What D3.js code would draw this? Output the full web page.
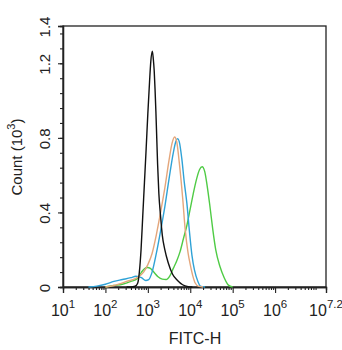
<!DOCTYPE html>
<html><head><meta charset="utf-8">
<script src="https://cdn.jsdelivr.net/npm/d3@7"></script>
<style>html,body{margin:0;padding:0;background:#fff;}svg{display:block;font-family:"Liberation Sans",Arial,sans-serif;}</style>
</head><body>
<script>
// x values are log10(FITC-H); y values are Count (10^3)
const blackX = [2.5,2.6,2.7,2.76,2.8,2.84,2.88,2.92,2.96,3.0,3.04,3.07,3.106,3.13,3.15,3.17,3.19,3.21,3.23,3.26,3.30,3.34,3.40,3.48,3.58,3.70,3.82,3.95,4.05];
const blackY = [0,0,0.004,0.02,0.08,0.2,0.38,0.56,0.74,0.93,1.1,1.21,1.265,1.22,1.16,1.06,0.94,0.8,0.66,0.5,0.38,0.28,0.2,0.13,0.07,0.035,0.012,0.002,0];
const orangeX = [2.0,2.2,2.5,2.75,2.9,3.0,3.1,3.2,3.3,3.4,3.5,3.57,3.63,3.68,3.74,3.82,3.88,3.95,4.0,4.06,4.12,4.2,4.3];
const orangeY = [0,0.008,0.03,0.05,0.08,0.12,0.18,0.28,0.40,0.53,0.68,0.77,0.805,0.78,0.67,0.48,0.31,0.18,0.12,0.06,0.02,0.003,0];
const blueX = [1.6,1.8,2.0,2.2,2.4,2.6,2.72,2.85,2.95,3.02,3.1,3.2,3.3,3.4,3.5,3.6,3.66,3.70,3.74,3.8,3.86,3.92,3.98,4.04,4.1,4.18,4.25,4.35];
const blueY = [0,0.005,0.015,0.03,0.04,0.05,0.058,0.05,0.035,0.04,0.08,0.18,0.3,0.43,0.58,0.72,0.78,0.796,0.78,0.69,0.56,0.45,0.3,0.17,0.09,0.03,0.003,0];
const greenX = [2.0,2.2,2.4,2.6,2.75,2.85,2.92,2.99,3.06,3.14,3.24,3.34,3.43,3.52,3.6,3.68,3.76,3.84,3.92,4.0,4.07,4.15,4.22,4.28,4.34,4.40,4.46,4.53,4.6,4.7,4.8,4.9,5.0];
const greenY = [0,0.008,0.015,0.03,0.045,0.08,0.098,0.105,0.1,0.08,0.055,0.042,0.04,0.06,0.1,0.14,0.19,0.26,0.33,0.42,0.5,0.58,0.63,0.645,0.62,0.54,0.44,0.31,0.2,0.11,0.05,0.01,0];

const xMajorExp = [1,2,3,4,5,6,7.2];
const xTickLabels = ["1","2","3","4","5","6","7.2"];
const yMajor = [0,0.4,0.8,1.2,1.4];
const yTickLabels = ["0","0.4","0.8","1.2","1.4"];

const W = 342, H = 350;
const L = 63, R = 326, T = 26, B = 287;
const svg = d3.select("body").append("svg").attr("width", W).attr("height", H);
const x = d3.scaleLog().domain([10, Math.pow(10,7.2)]).range([L, R]);
const y = d3.scaleLinear().domain([0, 1.4]).range([B, T]);

// frame
svg.append("rect").attr("x", L).attr("y", T).attr("width", R-L).attr("height", B-T)
  .attr("fill","none").attr("stroke","#222").attr("stroke-width",1.3);

// x ticks
const xMinor = [];
for (let e = 1; e < 7.2; e++) for (let k = 2; k <= 9; k++) { const v = k*Math.pow(10,e); if (Math.log10(v) < 7.2) xMinor.push(v); }
const xAxisMinor = d3.axisBottom(x).tickValues(xMinor).tickSize(3).tickFormat("");
const xAxisMajor = d3.axisBottom(x).tickValues(xMajorExp.map(e=>Math.pow(10,e))).tickSize(6).tickFormat("");
[xAxisMinor, xAxisMajor].forEach(ax => {
  const g = svg.append("g").attr("transform",`translate(0,${B})`).call(ax);
  g.select(".domain").attr("stroke","#222").attr("stroke-width",1.3);
  g.selectAll(".tick line").attr("stroke","#222").attr("stroke-width",1.1);
});
xMajorExp.forEach((e,i) => {
  const t = svg.append("text").attr("x", x(Math.pow(10,e))).attr("y", 316)
    .attr("text-anchor","middle").attr("font-size",16).attr("fill","#222");
  t.append("tspan").text("10");
  t.append("tspan").attr("dy",-8).attr("font-size",11.5).text(xTickLabels[i]);
});
svg.append("text").attr("x", 195).attr("y", 344).attr("text-anchor","middle")
  .attr("font-size",16).attr("fill","#222").text("FITC-H");

// y ticks
const yMinor = d3.range(0, 1.4, 0.08);
const yAxisMinor = d3.axisLeft(y).tickValues(yMinor).tickSize(3).tickFormat("");
const yAxisMajor = d3.axisLeft(y).tickValues(yMajor).tickSize(5).tickFormat("");
[yAxisMinor, yAxisMajor].forEach(ax => {
  const g = svg.append("g").attr("transform",`translate(${L},0)`).call(ax);
  g.select(".domain").attr("stroke","#222").attr("stroke-width",1.3);
  g.selectAll(".tick line").attr("stroke","#222").attr("stroke-width",1.1);
});
yMajor.forEach((v,i) => {
  svg.append("text").attr("transform",`translate(50,${y(v)+1}) rotate(-90)`)
    .attr("text-anchor","middle").attr("font-size",15).attr("fill","#222").text(yTickLabels[i]);
});
const yl = svg.append("text").attr("transform",`translate(22,157) rotate(-90)`)
  .attr("text-anchor","middle").attr("font-size",15).attr("fill","#222");
yl.append("tspan").text("Count (10");
yl.append("tspan").attr("dy",-7).attr("font-size",11).text("3");
yl.append("tspan").attr("dy",7).text(")");

// curves
const line = d3.line().x(d=>x(Math.pow(10,d[0]))).y(d=>y(d[1])).curve(d3.curveMonotoneX);
const series = [
  [greenX, greenY, "#4fcb45"],
  [blueX, blueY, "#2fa2d6"],
  [orangeX, orangeY, "#e4a67b"],
  [blackX, blackY, "#111"]
];
series.forEach(([xs, ys, c]) => {
  svg.append("path").datum(xs.map((v,i)=>[v, ys[i]]))
    .attr("d", line).attr("fill","none").attr("stroke", c).attr("stroke-width",1.4);
});
</script>
</body></html>
